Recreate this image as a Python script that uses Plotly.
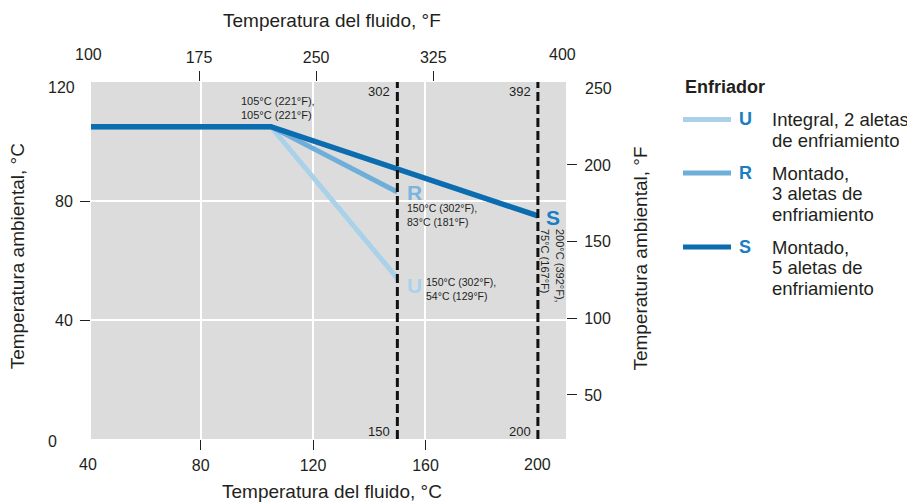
import plotly.graph_objects as go

# ---------------- data ----------------
fluid_c_U = [41, 105, 150]
amb_c_U = [105, 105, 54]
fluid_c_R = [41, 105, 150]
amb_c_R = [105, 105, 83]
fluid_c_S = [41, 105, 200]
amb_c_S = [105, 105, 75]

limit_c = [150, 200]          # dashed limit lines (°C)
limit_f = [302, 392]          # same limits in °F

x_ticks_c = [80, 120, 160]
x_ticks_f = [175, 250, 325]
y_ticks_c = [40, 80]
y_ticks_f = [50, 100, 150, 200]

series_names = ["U", "R", "S"]
series_desc = [["Integral, 2 aletas", "de enfriamiento"],
               ["Montado,", "3 aletas de", "enfriamiento"],
               ["Montado,", "5 aletas de", "enfriamiento"]]

# ---------------- style ----------------
FONT = "Liberation Sans, Arial, Helvetica, sans-serif"
TXT = "#231f20"
C_U = "#a9d2ea"
C_R = "#6eaed9"
C_S = "#0b6cb0"
C_LETTER = "#1b7dc2"
BG = "#dcdcdd"

XR = [41, 210]
YR = [0, 120]
YR_F = [21.3, 254.1]
XR_F = [XR[0] * 1.8 + 32, XR[1] * 1.8 + 32]

fig = go.Figure()
for xs, ys, col, w in [(fluid_c_U, amb_c_U, C_U, 5),
                       (fluid_c_R, amb_c_R, C_R, 5),
                       (fluid_c_S, amb_c_S, C_S, 5.5)]:
    fig.add_trace(go.Scatter(x=xs, y=ys, mode="lines",
                             line=dict(color=col, width=w),
                             showlegend=False, hoverinfo="skip"))

# invisible trace to activate the °F axes
fig.add_trace(go.Scatter(x=[XR_F[0], XR_F[1]], y=[YR_F[0], YR_F[1]],
                         xaxis="x2", yaxis="y2", mode="lines",
                         line=dict(width=0), opacity=0,
                         showlegend=False, hoverinfo="skip"))

# dashed limit lines
for xc in limit_c:
    fig.add_shape(type="line", xref="x", yref="paper", x0=xc, x1=xc, y0=0, y1=1,
                  line=dict(color="#111111", width=3, dash="9px,4px"), layer="above")

ann = []
def A(**kw):
    base = dict(showarrow=False, font=dict(family=FONT, color=TXT))
    base.update(kw)
    ann.append(base)

# limit labels
for xc, xf in zip(limit_c, limit_f):
    A(x=xc, y=1, xref="x", yref="paper", text=str(xf), xanchor="right",
      yanchor="middle", xshift=-5, yshift=-9, font=dict(family=FONT, size=13, color=TXT))
    A(x=xc, y=0, xref="x", yref="paper", text=str(xc), xanchor="right",
      yanchor="middle", xshift=-5, yshift=8, font=dict(family=FONT, size=13, color=TXT))

# breakpoint label
A(x=fluid_c_S[1], y=amb_c_S[1], xref="x", yref="y",
  text="105°C (221°F),<br>105°C (221°F)", xanchor="center", yanchor="middle",
  xshift=7, yshift=19, align="left", font=dict(family=FONT, size=11, color=TXT))

# end labels
A(x=fluid_c_R[2], y=amb_c_R[2], xref="x", yref="y", text="<b>R</b>",
  xanchor="left", yanchor="middle", xshift=8, yshift=0,
  font=dict(family=FONT, size=21, color="#79b5de"))
A(x=fluid_c_R[2], y=amb_c_R[2], xref="x", yref="y",
  text="150°C (302°F),<br>83°C (181°F)", xanchor="left", yanchor="middle",
  xshift=8, yshift=-23, align="left", font=dict(family=FONT, size=10.5, color=TXT))
A(x=fluid_c_U[2], y=amb_c_U[2], xref="x", yref="y", text="<b>U</b>",
  xanchor="left", yanchor="middle", xshift=8, yshift=-7,
  font=dict(family=FONT, size=21, color=C_U))
A(x=fluid_c_U[2], y=amb_c_U[2], xref="x", yref="y",
  text="150°C (302°F),<br>54°C (129°F)", xanchor="left", yanchor="middle",
  xshift=27, yshift=-11, align="left", font=dict(family=FONT, size=10.5, color=TXT))
A(x=fluid_c_S[2], y=amb_c_S[2], xref="x", yref="y", text="<b>S</b>",
  xanchor="left", yanchor="middle", xshift=6, yshift=-2,
  font=dict(family=FONT, size=21, color=C_LETTER))
A(x=fluid_c_S[2], y=amb_c_S[2], xref="x", yref="y",
  text="200°C (392°F),<br>75°C (167°F)", textangle=90, xanchor="center",
  yanchor="middle", xshift=15, yshift=-50, align="left",
  font=dict(family=FONT, size=11, color=TXT))

# corner tick labels
TF = 16
A(x=0, y=0, xref="paper", yref="paper", text="40", xanchor="center", yanchor="top",
  xshift=-3, yshift=-15, font=dict(family=FONT, size=TF, color=TXT))
A(x=200, y=0, xref="x", yref="paper", text="200", xanchor="center", yanchor="top",
  yshift=-15, font=dict(family=FONT, size=TF, color=TXT))
A(x=0, y=0, xref="paper", yref="paper", text="0", xanchor="right", yanchor="middle",
  xshift=-32, yshift=-2, font=dict(family=FONT, size=TF, color=TXT))
A(x=0, y=1, xref="paper", yref="paper", text="120", xanchor="right", yanchor="middle",
  xshift=-14, yshift=-5, font=dict(family=FONT, size=TF, color=TXT))
A(x=0, y=1, xref="paper", yref="paper", text="100", xanchor="center", yanchor="bottom",
  xshift=-3, yshift=17, font=dict(family=FONT, size=TF, color=TXT))
A(x=1, y=1, xref="paper", yref="paper", text="400", xanchor="center", yanchor="bottom",
  xshift=-4, yshift=17, font=dict(family=FONT, size=TF, color=TXT))
A(x=1, y=1, xref="paper", yref="paper", text="250", xanchor="left", yanchor="middle",
  xshift=17, yshift=-6, font=dict(family=FONT, size=TF, color=TXT))

# axis titles
TS = 19
A(x=0.5, y=-0.146, xref="paper", yref="paper", text="Temperatura del fluido, °C",
  xanchor="center", yanchor="middle", xshift=3, font=dict(family=FONT, size=TS, color=TXT))
A(x=0.5, y=1.172, xref="paper", yref="paper", text="Temperatura del fluido, °F",
  xanchor="center", yanchor="middle", xshift=3, font=dict(family=FONT, size=TS, color=TXT))
A(x=-0.154, y=0.5, xref="paper", yref="paper", text="Temperatura ambiental, °C",
  textangle=-90, xanchor="center", yanchor="middle", yshift=4,
  font=dict(family=FONT, size=TS, color=TXT))
A(x=1.156, y=0.5, xref="paper", yref="paper", text="Temperatura ambiental, °F",
  textangle=-90, xanchor="center", yanchor="middle", yshift=2,
  font=dict(family=FONT, size=TS, color=TXT))

# legend (manual)
def px_x(p):
    return (p - 91) / 475
def px_y(p):
    return (439 - p) / 357

A(x=px_x(683), y=px_y(87), xref="paper", yref="paper", text="<b>Enfriador</b>",
  xanchor="left", yanchor="middle", font=dict(family=FONT, size=18, color=TXT))
leg_cols = [C_U, C_R, C_S]
leg_y = [119.5, 173, 247]
LINE_H = 20.8
for name, desc, col, ly in zip(series_names, series_desc, leg_cols, leg_y):
    fig.add_shape(type="line", xref="paper", yref="paper",
                  x0=px_x(683), x1=px_x(731), y0=px_y(ly), y1=px_y(ly),
                  line=dict(color=col, width=5))
    A(x=px_x(737), y=px_y(ly), xref="paper", yref="paper", text=f"<b>{name}</b>",
      xanchor="left", yanchor="middle", font=dict(family=FONT, size=18, color=C_LETTER))
    for i, line in enumerate(desc):
        A(x=px_x(770), y=px_y(ly + i * LINE_H), xref="paper", yref="paper", text=line,
          xanchor="left", yanchor="middle", align="left",
          font=dict(family=FONT, size=18.5, color=TXT))

# page body has an 8px margin: shift the figure margins so the plot area
# sits at x 91..566, y 82..439 in the window
fig.update_layout(
    width=907, height=494,
    margin=dict(l=83, r=349, t=74, b=63),
    paper_bgcolor="white", plot_bgcolor=BG,
    font=dict(family=FONT, color=TXT, size=TF),
    annotations=ann,
    xaxis=dict(range=XR, tickmode="array", tickvals=x_ticks_c,
               ticks="outside", ticklen=10, tickwidth=1.3, tickcolor=TXT,
               showgrid=True, gridcolor="white", gridwidth=1.5,
               zeroline=False, showline=False, tickfont=dict(size=TF),
               ticklabelstandoff=2),
    yaxis=dict(range=YR, tickmode="array", tickvals=y_ticks_c,
               ticks="outside", ticklen=10, tickwidth=1.3, tickcolor=TXT,
               showgrid=True, gridcolor="white", gridwidth=1.5,
               zeroline=False, showline=False, tickfont=dict(size=TF),
               ticklabelstandoff=4),
    xaxis2=dict(range=XR_F, overlaying="x", side="top", anchor="y",
                tickmode="array", tickvals=x_ticks_f,
                ticks="outside", ticklen=10, tickwidth=1.3, tickcolor=TXT,
                showgrid=False, zeroline=False, showline=False,
                tickfont=dict(size=TF), ticklabelstandoff=2),
    yaxis2=dict(range=YR_F, overlaying="y", side="right", anchor="x",
                tickmode="array", tickvals=y_ticks_f,
                ticks="outside", ticklen=10, tickwidth=1.3, tickcolor=TXT,
                showgrid=False, zeroline=False, showline=False,
                tickfont=dict(size=TF), ticklabelstandoff=4),
)

fig.write_html("out.html")
